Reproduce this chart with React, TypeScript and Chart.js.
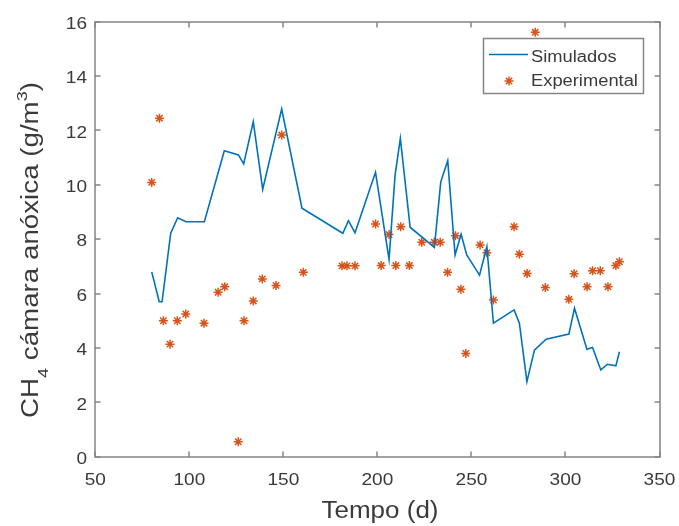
import React, { useEffect, useRef } from "react";
import { Chart, registerables } from "chart.js";

Chart.register(...registerables);

const simDays = [80, 84, 85.5, 90.1, 93.8, 98.2, 108, 118.6, 126.1, 128.9, 134, 139, 149.1, 159.9, 181.6, 184.6, 188.1, 199, 206.2, 209.4, 212.2, 217.4, 230.3, 233.7, 237.4, 241.3, 244.5, 247.5, 254.3, 258.2, 261.7, 272.7, 275.5, 279.5, 283.5, 289.7, 301.8, 304.8, 311.4, 314.4, 318.8, 322.3, 326.8, 328.7];
const simValues = [6.8, 5.7, 5.7, 8.22, 8.79, 8.64, 8.64, 11.25, 11.1, 10.77, 12.32, 9.83, 12.79, 9.14, 8.22, 8.68, 8.24, 10.46, 7.26, 10.36, 11.71, 8.44, 7.7, 10.11, 10.89, 7.42, 8.18, 7.42, 6.68, 7.72, 4.91, 5.4, 4.91, 2.76, 3.92, 4.32, 4.51, 5.46, 3.95, 4.02, 3.19, 3.4, 3.34, 3.86];

const expDays = [80, 84.1, 86.2, 89.7, 93.6, 98.1, 107.8, 115.3, 118.8, 126, 129.1, 134, 138.8, 146.1, 149.1, 160.6, 181.2, 183.8, 188.1, 199, 202, 206.2, 209.8, 212.4, 217, 223.6, 230.2, 233.4, 237.3, 241.5, 244.4, 247, 254.6, 258.2, 261.7, 272.7, 275.5, 279.6, 283.9, 289.3, 301.8, 304.6, 311.5, 314.4, 318.5, 322.6, 326.8, 328.7];
const expValues = [10.09, 12.45, 5.0, 4.14, 5.0, 5.25, 4.91, 6.05, 6.25, 0.55, 5.0, 5.73, 6.54, 6.3, 11.83, 6.78, 7.02, 7.02, 7.02, 8.56, 7.03, 8.17, 7.03, 8.46, 7.03, 7.89, 7.89, 7.89, 6.78, 8.13, 6.16, 3.8, 7.79, 7.5, 5.76, 8.46, 7.45, 6.74, 15.61, 6.22, 5.79, 6.73, 6.25, 6.84, 6.84, 6.25, 7.03, 7.17];

const seriesNames = ["Simulados", "Experimental"];
const xTitle = "Tempo (d)";
const yTitleParts = [
  { t: "CH", s: 0 },
  { t: "4", s: 1 },
  { t: " cámara anóxica (g/m", s: 0 },
  { t: "3", s: -1 },
  { t: ")", s: 0 },
];

const FONT = '"Liberation Sans", Arial, Helvetica, sans-serif';
const TEXT = "#3a3a3a";
const AXIS = "#858585";
const BLUE = "#0072BD";
const ORANGE = "#D95319";

function drawStar(ctx: CanvasRenderingContext2D, x: number, y: number, r: number) {
  ctx.beginPath();
  for (let i = 0; i < 4; i++) {
    const a = (i * Math.PI) / 4;
    ctx.moveTo(x - Math.cos(a) * r, y - Math.sin(a) * r);
    ctx.lineTo(x + Math.cos(a) * r, y + Math.sin(a) * r);
  }
  ctx.stroke();
}

function scaledText(ctx: CanvasRenderingContext2D, text: string, x: number, y: number, sx: number, align: CanvasTextAlign, baseline: CanvasTextBaseline) {
  ctx.save();
  ctx.translate(x, y);
  ctx.scale(sx, 1);
  ctx.textAlign = align;
  ctx.textBaseline = baseline;
  ctx.fillText(text, 0, 0);
  ctx.restore();
}

const decorPlugin = {
  id: "matlabDecor",
  afterDraw(chart: any) {
    const ctx: CanvasRenderingContext2D = chart.ctx;
    const { left, right, top, bottom } = chart.chartArea;
    const xs = chart.scales.x;
    const ys = chart.scales.y;
    ctx.save();
    // box
    ctx.strokeStyle = AXIS;
    ctx.lineWidth = 1.5;
    const L = Math.round(left);
    const R = Math.round(right);
    const T = Math.round(top);
    const B = Math.round(bottom);
    ctx.beginPath();
    ctx.rect(L, T, R - L, B - T);
    ctx.stroke();
    const tl = 5.5;
    ctx.beginPath();
    xs.ticks.forEach((t: any) => {
      const p = Math.round(xs.getPixelForValue(t.value));
      ctx.moveTo(p, B);
      ctx.lineTo(p, B - tl);
      ctx.moveTo(p, T);
      ctx.lineTo(p, T + tl);
    });
    ys.ticks.forEach((t: any) => {
      const p = Math.round(ys.getPixelForValue(t.value));
      ctx.moveTo(L, p);
      ctx.lineTo(L + tl, p);
      ctx.moveTo(R, p);
      ctx.lineTo(R - tl, p);
    });
    ctx.stroke();

    // tick labels
    ctx.fillStyle = TEXT;
    ctx.font = `17px ${FONT}`;
    xs.ticks.forEach((t: any) => {
      const p = xs.getPixelForValue(t.value);
      scaledText(ctx, String(t.value), p, 480, 1.12, "center", "middle");
    });
    ys.ticks.forEach((t: any) => {
      const p = ys.getPixelForValue(t.value);
      scaledText(ctx, String(t.value), 87, p + 2.5, 1.12, "right", "middle");
    });

    // x title
    ctx.font = `23px ${FONT}`;
    const xw = ctx.measureText(xTitle).width;
    scaledText(ctx, xTitle, 380, 518, 117 / xw, "center", "alphabetic");

    // y title with sub/superscripts
    const mainF = `23px ${FONT}`;
    const smallF = `15px ${FONT}`;
    let total = 0;
    const widths = yTitleParts.map((p) => {
      ctx.font = p.s === 0 ? mainF : smallF;
      const w = ctx.measureText(p.t).width;
      total += w;
      return w;
    });
    const sy = 336 / total;
    ctx.save();
    ctx.translate(38, 250);
    ctx.rotate(-Math.PI / 2);
    ctx.scale(sy, 1);
    ctx.textAlign = "left";
    ctx.textBaseline = "alphabetic";
    let cx = -total / 2;
    yTitleParts.forEach((p, i) => {
      ctx.font = p.s === 0 ? mainF : smallF;
      const dy = p.s === 1 ? 10 : p.s === -1 ? -11.5 : 0;
      ctx.fillText(p.t, cx, dy);
      cx += widths[i];
    });
    ctx.restore();

    // legend
    ctx.fillStyle = "#ffffff";
    ctx.fillRect(483.5, 38.5, 160, 55);
    ctx.strokeStyle = AXIS;
    ctx.lineWidth = 1.5;
    ctx.strokeRect(483.5, 38.5, 160, 55);
    ctx.strokeStyle = BLUE;
    ctx.lineWidth = 1.6;
    ctx.beginPath();
    ctx.moveTo(489, 54.5);
    ctx.lineTo(528, 54.5);
    ctx.stroke();
    ctx.strokeStyle = ORANGE;
    ctx.lineWidth = 1.5;
    drawStar(ctx, 509, 81, 4.5);
    ctx.fillStyle = TEXT;
    ctx.font = `16px ${FONT}`;
    scaledText(ctx, seriesNames[0], 531, 61.5, 1.145, "left", "alphabetic");
    scaledText(ctx, seriesNames[1], 531, 85.5, 1.145, "left", "alphabetic");
    ctx.restore();
  },
};

export default function App() {
  const ref = useRef<HTMLCanvasElement | null>(null);
  useEffect(() => {
    if (!ref.current) return;
    const chart = new Chart(ref.current, {
      type: "scatter",
      data: {
        datasets: [
          {
            label: seriesNames[0],
            data: simDays.map((d, i) => ({ x: d, y: simValues[i] })),
            showLine: true,
            borderColor: BLUE,
            backgroundColor: BLUE,
            borderWidth: 1.6,
            pointRadius: 0,
            tension: 0,
          },
          {
            label: seriesNames[1],
            data: expDays.map((d, i) => ({ x: d, y: expValues[i] })),
            showLine: false,
            pointStyle: "star",
            pointRadius: 4.5,
            pointBorderWidth: 1.5,
            borderColor: ORANGE,
            backgroundColor: ORANGE,
          },
        ],
      },
      options: {
        animation: false,
        responsive: false,
        maintainAspectRatio: false,
        layout: { padding: { left: 0, right: 19.5, top: 21.7, bottom: 0 } },
        plugins: { legend: { display: false }, tooltip: { enabled: false } },
        scales: {
          x: {
            type: "linear",
            min: 50,
            max: 350,
            grid: { display: false, drawTicks: false },
            border: { display: false },
            ticks: { stepSize: 50, display: false },
            afterFit: (s: any) => {
              s.height = 526 - 456.7;
            },
          },
          y: {
            type: "linear",
            min: 0,
            max: 16,
            grid: { display: false, drawTicks: false },
            border: { display: false },
            ticks: { stepSize: 2, display: false },
            afterFit: (s: any) => {
              s.width = 95.3;
            },
          },
        },
      },
      plugins: [decorPlugin],
    });
    return () => chart.destroy();
  }, []);
  return (
    <div style={{ position: "fixed", left: 0, top: 0, width: 679, height: 526, background: "#fff" }}>
      <canvas ref={ref} width={679} height={526} style={{ display: "block" }} />
    </div>
  );
}
